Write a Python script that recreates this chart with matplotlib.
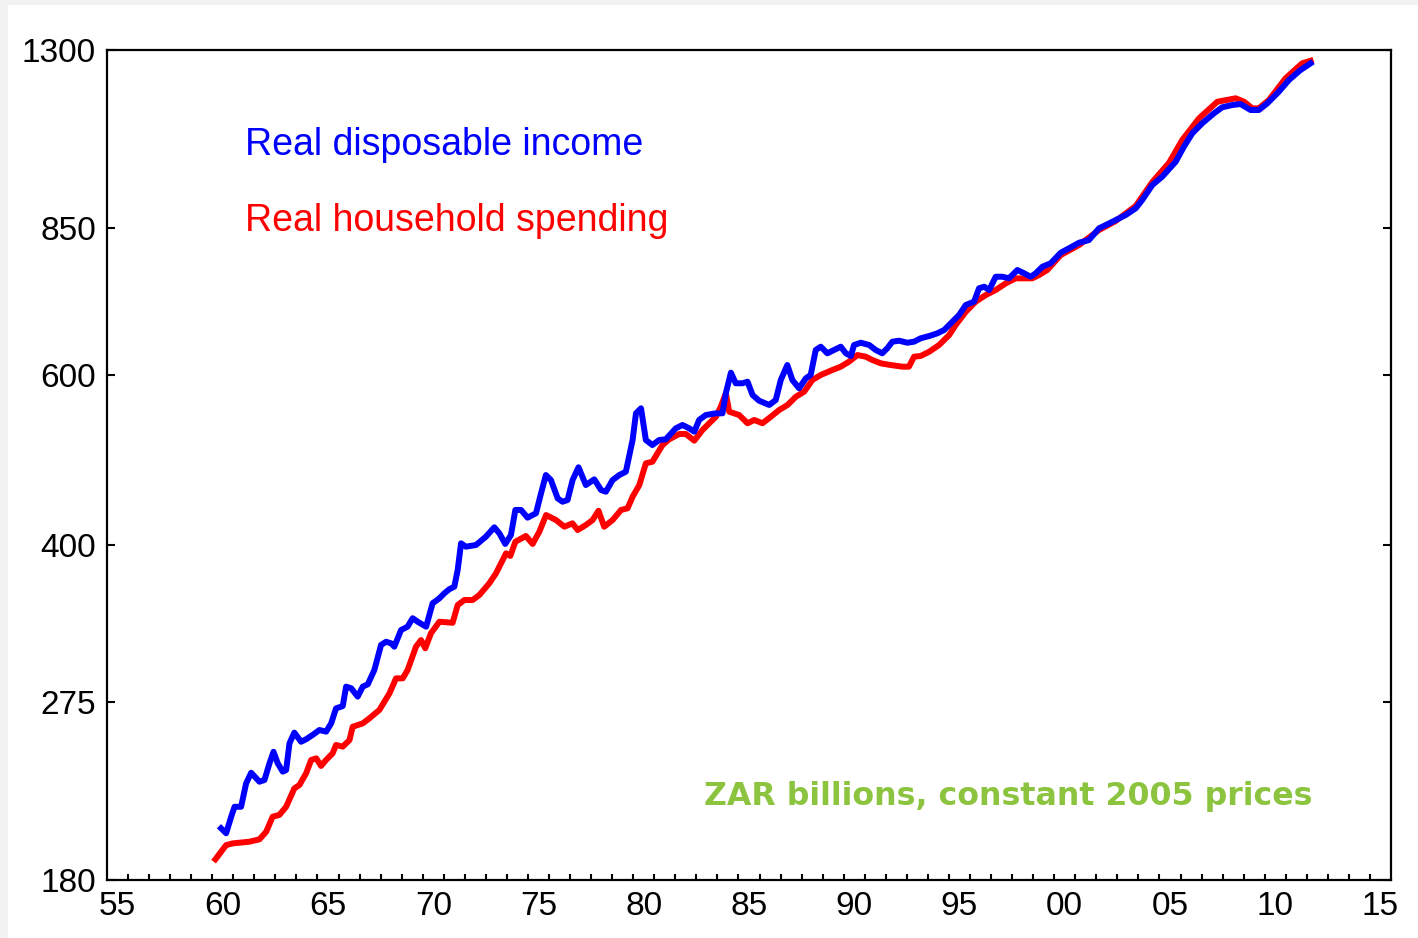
import numpy as np
import matplotlib
matplotlib.use("Agg")
import matplotlib.pyplot as plt
from matplotlib.ticker import FixedLocator, NullLocator
from matplotlib.patches import Rectangle

# Real disposable income (ZAR bn, 2005 prices)
income_years = [1959.92, 1960.16, 1960.40, 1960.56, 1960.87, 1961.11, 1961.35, 1961.74, 1961.98,
                1962.22, 1962.41, 1962.61, 1962.85, 1963.01, 1963.17, 1963.40, 1963.72, 1963.96,
                1964.27, 1964.59, 1964.91, 1965.15, 1965.38, 1965.70, 1965.86, 1966.10, 1966.41,
                1966.65, 1966.89, 1967.20, 1967.52, 1967.76, 1968.00, 1968.15, 1968.47, 1968.78,
                1969.02, 1969.26, 1969.66, 1969.97, 1970.29, 1970.53, 1970.76, 1971.00, 1971.16,
                1971.32, 1971.55, 1972.03, 1972.50, 1972.90, 1973.14, 1973.42, 1973.69, 1973.90,
                1974.17, 1974.48, 1974.88, 1975.12, 1975.35, 1975.59, 1975.91, 1976.14, 1976.38,
                1976.62, 1976.90, 1977.25, 1977.65, 1977.97, 1978.20, 1978.52, 1978.84, 1979.15,
                1979.47, 1979.63, 1979.87, 1980.10, 1980.41, 1980.73, 1981.05, 1981.52, 1981.84,
                1982.16, 1982.40, 1982.63, 1982.95, 1983.42, 1983.74, 1983.90, 1984.14, 1984.37,
                1984.69, 1984.93, 1985.17, 1985.48, 1985.96, 1986.27, 1986.51, 1986.82, 1987.06,
                1987.38, 1987.70, 1987.93, 1988.17, 1988.41, 1988.72, 1989.04, 1989.36, 1989.60,
                1989.84, 1989.99, 1990.31, 1990.71, 1991.02, 1991.33, 1991.57, 1991.81, 1992.13,
                1992.52, 1992.84, 1993.16, 1993.56, 1993.95, 1994.27, 1994.66, 1994.98, 1995.30,
                1995.69, 1995.93, 1996.17, 1996.41, 1996.72, 1997.04, 1997.35, 1997.75, 1998.07,
                1998.38, 1998.62, 1998.94, 1999.33, 1999.81, 2000.20, 2000.68, 2001.15, 2001.63,
                2001.95, 2002.42, 2002.90, 2003.37, 2003.68, 2004.16, 2004.63, 2005.27, 2005.66,
                2006.06, 2006.53, 2007.09, 2007.48, 2007.96, 2008.35, 2008.83, 2009.22, 2009.62,
                2010.17, 2010.65, 2011.20, 2011.68]
income = [203.6, 201.2, 209.3, 214.3, 214.3, 226.6, 232.4, 227.5, 228.4,
          237.7, 244.3, 237.7, 233.0, 233.9, 249.3, 255.7, 250.2, 251.7,
          254.3, 257.3, 256.3, 261.4, 270.9, 272.4, 285.3, 284.2, 278.6,
          285.3, 286.9, 296.8, 315.1, 317.5, 316.3, 313.8, 326.5, 329.1,
          335.8, 333.0, 329.1, 348.0, 352.1, 356.4, 359.8, 362.0, 376.7,
          401.4, 398.2, 399.8, 407.8, 417.0, 411.1, 400.8, 409.4, 434.6,
          434.6, 426.7, 431.2, 452.2, 472.3, 466.7, 446.8, 443.2, 445.0,
          466.7, 481.1, 461.2, 467.5, 455.8, 453.9, 466.7, 472.3, 476.1,
          513.4, 547.1, 553.7, 513.4, 507.3, 513.4, 514.3, 527.9, 532.1,
          527.9, 523.7, 538.5, 544.9, 547.1, 547.1, 573.8, 602.7, 587.7,
          587.7, 589.9, 571.5, 563.8, 558.1, 564.7, 592.3, 613.8, 592.3,
          580.7, 594.7, 599.4, 636.2, 641.2, 631.2, 636.2, 641.2, 631.2,
          627.2, 643.8, 647.3, 643.8, 636.2, 631.2, 638.8, 648.9, 650.4,
          647.3, 648.9, 654.2, 657.7, 662.0, 667.2, 680.5, 691.5, 708.2,
          713.8, 736.9, 739.7, 733.9, 757.5, 757.5, 754.6, 769.7, 763.7,
          757.5, 763.7, 775.8, 782.1, 802.1, 810.5, 821.4, 826.7, 850.1,
          856.8, 867.1, 877.5, 891.6, 909.4, 942.5, 961.3, 996.2, 1032.5,
          1066.0, 1091.7, 1118.0, 1134.1, 1140.3, 1143.0, 1126.8, 1126.8, 1144.9,
          1177.0, 1210.3, 1239.5, 1259.4]

# Real household spending
spending_years = [1959.65, 1959.92, 1960.16, 1960.47, 1961.27, 1961.74, 1962.06, 1962.37, 1962.69,
                  1963.01, 1963.40, 1963.64, 1963.96, 1964.20, 1964.44, 1964.67, 1964.91, 1965.22,
                  1965.38, 1965.70, 1966.02, 1966.17, 1966.65, 1966.97, 1967.44, 1967.92, 1968.23,
                  1968.55, 1968.78, 1969.18, 1969.42, 1969.62, 1969.89, 1970.29, 1970.92, 1971.16,
                  1971.48, 1971.87, 1972.19, 1972.66, 1972.98, 1973.30, 1973.46, 1973.66, 1973.90,
                  1974.40, 1974.72, 1975.04, 1975.36, 1975.83, 1976.23, 1976.61, 1976.86, 1977.25,
                  1977.57, 1977.85, 1978.12, 1978.52, 1978.92, 1979.23, 1979.47, 1979.79, 1980.10,
                  1980.41, 1980.89, 1981.21, 1981.69, 1982.00, 1982.40, 1982.79, 1983.11, 1983.43,
                  1983.66, 1983.90, 1984.06, 1984.53, 1984.93, 1985.25, 1985.64, 1986.04, 1986.43,
                  1986.83, 1987.23, 1987.62, 1988.01, 1988.41, 1988.96, 1989.36, 1989.75, 1990.15,
                  1990.55, 1990.86, 1991.26, 1991.73, 1992.29, 1992.60, 1992.84, 1993.16, 1993.56,
                  1994.03, 1994.51, 1994.82, 1995.30, 1995.77, 1996.25, 1996.72, 1997.20, 1997.67,
                  1998.46, 1998.78, 1999.17, 1999.81, 2000.68, 2001.63, 2002.42, 2003.37, 2004.16,
                  2004.95, 2005.58, 2006.38, 2007.25, 2008.12, 2008.52, 2008.91, 2009.22, 2009.70,
                  2010.49, 2011.28, 2011.68]
spending = [189.1, 192.5, 195.6, 196.4, 197.2, 198.3, 201.9, 209.3, 210.2,
            214.3, 223.9, 225.7, 232.1, 239.6, 240.5, 236.2, 239.6, 243.4,
            248.3, 247.3, 251.2, 259.3, 261.4, 264.6, 269.9, 280.8, 291.0,
            291.0, 296.8, 313.8, 318.8, 312.6, 324.0, 333.0, 332.2, 346.5,
            350.7, 350.7, 354.9, 364.9, 373.7, 385.8, 392.0, 389.5, 402.9,
            408.5, 400.8, 412.7, 429.4, 424.3, 417.6, 421.0, 414.3, 419.3,
            424.3, 433.8, 417.6, 424.3, 434.6, 436.3, 448.5, 461.2, 485.7,
            487.5, 507.3, 514.3, 520.8, 520.8, 512.6, 525.8, 534.3, 542.7,
            555.8, 573.8, 549.2, 544.9, 534.3, 538.5, 534.3, 542.7, 551.4,
            558.1, 569.2, 576.0, 592.3, 599.4, 606.6, 611.4, 618.7, 628.6,
            626.1, 621.2, 616.3, 613.8, 611.4, 611.4, 626.1, 627.2, 633.6,
            643.8, 659.3, 675.2, 696.9, 713.8, 725.2, 733.9, 745.7, 754.6,
            754.6, 760.6, 769.7, 797.7, 816.9, 846.7, 865.0, 896.5, 949.2,
            993.2, 1049.1, 1104.7, 1149.3, 1158.7, 1149.3, 1131.4, 1131.4, 1154.0,
            1215.2, 1259.4, 1267.2]

y_ticks = [180, 275, 400, 600, 850, 1300]
x_ticks = [1955, 1960, 1965, 1970, 1975, 1980, 1985, 1990, 1995, 2000, 2005, 2010, 2015]
x_labels = ["55", "60", "65", "70", "75", "80", "85", "90", "95", "00", "05", "10", "15"]

plt.rcParams["font.family"] = ["Liberation Sans", "DejaVu Sans"]

fig = plt.figure(figsize=(14.18, 9.38), dpi=100)
fig.patch.set_facecolor("#f2f2f2")
fig.patches.append(Rectangle((8 / 1418, 0), 1, 1 - 5 / 938, transform=fig.transFigure,
                             facecolor="white", edgecolor="none", zorder=-1))
ax = fig.add_axes([107 / 1418, 58 / 938, 1284 / 1418, 830 / 938])

ax.plot(spending_years, spending, color="#ff0000", lw=4.3, solid_joinstyle="round")
ax.plot(income_years, income, color="#0000ff", lw=4.3, solid_joinstyle="round")

ax.set_yscale("log")
ax.set_ylim(180, 1300)
ax.set_xlim(1954.5, 2015.5)
ax.yaxis.set_major_locator(FixedLocator(y_ticks))
ax.yaxis.set_minor_locator(NullLocator())
ax.set_yticklabels([str(v) for v in y_ticks])
ax.set_xticks(x_ticks)
ax.set_xticklabels(x_labels)
ax.xaxis.set_minor_locator(FixedLocator(np.arange(1955.5, 2015, 1)))

ax.tick_params(axis="x", which="major", length=0, pad=8, labelsize=24)
ax.tick_params(axis="x", which="minor", direction="in", length=4.5, width=1.5)
ax.tick_params(axis="y", which="major", direction="in", length=6, width=1.5,
               pad=8, labelsize=24, right=True)
for s in ax.spines.values():
    s.set_linewidth(1.6)

ax.text(0.1075, 0.8855, "Real disposable income", transform=ax.transAxes,
        color="#0000ff", fontsize=27, va="center", ha="left")
ax.text(0.1075, 0.794, "Real household spending", transform=ax.transAxes,
        color="#ff0000", fontsize=27, va="center", ha="left")
ax.text((1313 - 107) / 1284, (880 - 796) / 830, "ZAR billions, constant 2005 prices",
        transform=ax.transAxes, color="#8cc43f", fontsize=22.8, fontweight="bold",
        family="DejaVu Sans", va="center", ha="right")

fig.savefig("out.png", dpi=100)
